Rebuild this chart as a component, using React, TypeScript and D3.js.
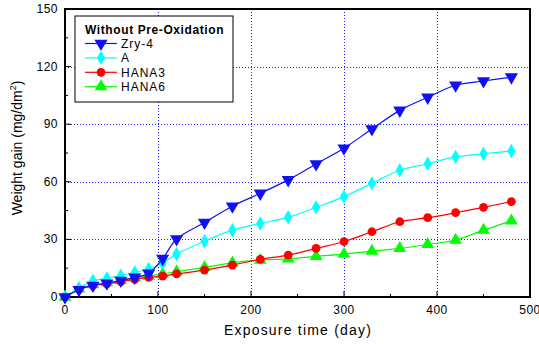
import * as d3 from 'd3'
import React, { useEffect, useRef } from 'react'

const days = [0, 15, 30, 45, 60, 75, 90, 105, 120, 150, 180, 210, 240, 270, 300, 330, 360, 390, 420, 450, 480]
const zry4 = [0, 3.8, 6, 7.2, 8.6, 10.2, 12.3, 20, 30.2, 38.8, 47.3, 54, 61, 69.3, 77.5, 87.5, 97.2, 104, 110.3, 112.5, 114.5]
const alloyA = [0, 4.5, 8.4, 9.7, 11.1, 12.8, 14.6, 17.6, 22.4, 29, 34.8, 38.3, 41.5, 46.7, 52.3, 59.2, 66, 69.4, 73, 74.6, 76]
const hana3 = [0, 4, 6, 6.8, 8, 9.2, 10.2, 10.9, 12, 14, 16.6, 19.6, 21.8, 25.3, 28.9, 34, 39.2, 41.3, 43.9, 46.7, 49.7]
const hana6 = [0, 4.3, 6.5, 7.5, 8.7, 10, 10.9, 12, 13.2, 15.4, 17.8, 19.2, 19.9, 21.2, 22.3, 23.9, 25.3, 27.4, 29.7, 34.8, 39.7]
const seriesNames = ['Zry-4', 'A', 'HANA3', 'HANA6']
const xTicks = [0, 100, 200, 300, 400, 500]
const yTicks = [0, 30, 60, 90, 120, 150]

const W = 539
const H = 344
const left = 65
const right = 530
const top = 9
const bottom = 297

const App = () => {
  const ref = useRef(null)

  useEffect(() => {
    const svg = d3.select(ref.current)
    svg.selectAll('*').remove()

    const x = d3.scaleLinear().domain([0, 500]).range([left, right])
    const y = d3.scaleLinear().domain([0, 150]).range([bottom, top])

    const font = 'Arial, "Liberation Sans", sans-serif'

    // grid
    const grid = svg.append('g').attr('stroke', '#2020ff').attr('stroke-width', 1).attr('stroke-dasharray', '1,2')
    xTicks.slice(1, -1).forEach(t => {
      grid.append('line').attr('x1', Math.round(x(t)) + 0.5).attr('x2', Math.round(x(t)) + 0.5).attr('y1', top).attr('y2', bottom)
    })
    yTicks.slice(1, -1).forEach(t => {
      grid.append('line').attr('y1', Math.round(y(t)) + 0.5).attr('y2', Math.round(y(t)) + 0.5).attr('x1', left).attr('x2', right)
    })

    // minor + major ticks (inward)
    const tk = svg.append('g').attr('stroke', '#000').attr('stroke-width', 1)
    d3.range(0, 501, 50).forEach(t => {
      const len = t % 100 === 0 ? 6 : 3
      tk.append('line').attr('x1', x(t)).attr('x2', x(t)).attr('y1', bottom).attr('y2', bottom - len)
    })
    d3.range(0, 151, 15).forEach(t => {
      const len = t % 30 === 0 ? 6 : 3
      tk.append('line').attr('x1', left).attr('x2', left + len).attr('y1', y(t)).attr('y2', y(t))
    })

    // frame
    svg.append('rect')
      .attr('x', left).attr('y', top)
      .attr('width', right - left).attr('height', bottom - top)
      .attr('fill', 'none').attr('stroke', '#000').attr('stroke-width', 2)

    // tick labels
    svg.append('g').selectAll('text').data(xTicks).enter().append('text')
      .attr('x', d => x(d)).attr('y', bottom + 17)
      .attr('text-anchor', 'middle').attr('font-family', font).attr('font-size', 12)
      .attr('letter-spacing', 0.5)
      .text(d => d)
    svg.append('g').selectAll('text').data(yTicks).enter().append('text')
      .attr('x', left - 7).attr('y', d => y(d) + 4)
      .attr('text-anchor', 'end').attr('font-family', font).attr('font-size', 12)
      .attr('letter-spacing', 0.5)
      .text(d => d)

    // axis titles
    svg.append('text')
      .attr('x', 298).attr('y', 335)
      .attr('text-anchor', 'middle').attr('font-family', font).attr('font-size', 14)
      .attr('letter-spacing', 1.2)
      .text('Exposure time (day)')
    const yl = svg.append('text')
      .attr('transform', `translate(22, 148) rotate(-90)`)
      .attr('text-anchor', 'middle').attr('font-family', font).attr('font-size', 14)
    yl.append('tspan').text('Weight gain (mg/dm')
    yl.append('tspan').attr('font-size', 9).attr('dy', -6).text('2')
    yl.append('tspan').attr('dy', 6).text(')')

    const colors = ['#1010f0', '#00ffff', '#ff0000', '#00ff00']
    const symbols = [
      d3.symbolTriangle, d3.symbolDiamond, d3.symbolCircle, d3.symbolTriangle,
    ]
    const rot = [180, 0, 0, 0]
    const sizes = [75, 60, 60, 70]
    const allSeries = [zry4, alloyA, hana3, hana6]

    const line = d3.line<number>()
      .x((d, i) => x(days[i]))
      .y(d => y(d))
      .curve(d3.curveCatmullRom.alpha(0.5))

    // draw in reverse so Zry-4 sits on top
    ;[3, 2, 1, 0].forEach(si => {
      const g = svg.append('g')
      g.append('path').attr('d', line(allSeries[si])).attr('fill', 'none')
        .attr('stroke', colors[si]).attr('stroke-width', 1.2)
      g.selectAll('path.m').data(allSeries[si]).enter().append('path')
        .attr('class', 'm')
        .attr('d', d3.symbol().type(symbols[si]).size(sizes[si])())
        .attr('transform', (d, i) => `translate(${x(days[i])},${y(d)}) rotate(${rot[si]})`)
        .attr('fill', colors[si])
    })

    // legend
    const lg = svg.append('g')
    lg.append('rect').attr('x', 75).attr('y', 16).attr('width', 158).attr('height', 86)
      .attr('fill', '#fff').attr('stroke', '#000').attr('stroke-width', 1)
    lg.append('text').attr('x', 85).attr('y', 34).attr('font-family', font)
      .attr('font-size', 12).attr('font-weight', 'bold').attr('letter-spacing', 0.6)
      .text('Without Pre-Oxidation')
    seriesNames.forEach((name, i) => {
      const ly = 43.5 + i * 14.4
      lg.append('line').attr('x1', 85).attr('x2', 117).attr('y1', ly).attr('y2', ly)
        .attr('stroke', colors[i]).attr('stroke-width', 1.2)
      lg.append('path')
        .attr('d', d3.symbol().type(symbols[i]).size(sizes[i])())
        .attr('transform', `translate(101,${ly}) rotate(${rot[i]})`)
        .attr('fill', colors[i])
      lg.append('text').attr('x', 121).attr('y', ly + 4.5).attr('font-family', font)
        .attr('font-size', 12).attr('letter-spacing', 1).text(name)
    })
  }, [])

  return (
    <svg ref={ref} width={W} height={H} style={{ position: 'absolute', left: 0, top: 0, background: '#fff' }}></svg>
  )
}

export default App
